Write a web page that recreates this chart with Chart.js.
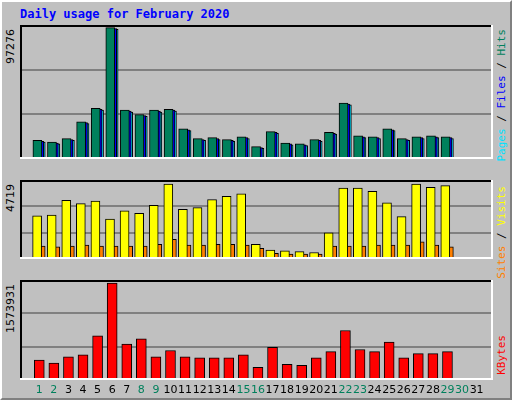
<!DOCTYPE html>
<html>
<head>
<meta charset="utf-8">
<script src="https://cdn.jsdelivr.net/npm/chart.js@4"></script>
<style>
  html, body { margin: 0; padding: 0; }
  #frame {
    position: relative; width: 508px; height: 396px; background: #C0C0C0;
    border-top: 2px solid #fff; border-left: 2px solid #fff;
    border-right: 2px solid #808080; border-bottom: 2px solid #808080;
    overflow: hidden;
  }
  .abs { position: absolute; }
  #title { left: 18px; top: 5px; font: bold 12px "DejaVu Sans Mono", monospace; color: #0000FF; }
  .vert { writing-mode: vertical-rl; transform: rotate(180deg); white-space: nowrap; }
  .left { font: 11px "DejaVu Sans", sans-serif; color: #000; }
  .right { font: 11px "DejaVu Sans Mono", monospace; }
</style>
</head>
<body>
<div id="frame">
  <div id="title" class="abs">Daily usage for February 2020</div>
  <canvas id="c1" class="abs" style="left:18px;top:23px" width="473" height="154"></canvas>
  <canvas id="c2" class="abs" style="left:18px;top:178px" width="473" height="99"></canvas>
  <canvas id="c3" class="abs" style="left:18px;top:278px" width="473" height="120"></canvas>
  <div class="abs vert left" style="left:2px;top:27px">97276</div>
  <div class="abs vert left" style="left:2px;top:182px">4719</div>
  <div class="abs vert left" style="left:2px;top:282px">1573931</div>
  <div class="abs vert right" style="left:493px;top:27px"><span style="color:#00E0FF">Pages</span>&nbsp;/&nbsp;<span style="color:#0000FF">Files</span>&nbsp;/&nbsp;<span style="color:#00805C">Hits</span></div>
  <div class="abs vert right" style="left:493px;top:184px"><span style="color:#FF8000">Sites</span>&nbsp;/&nbsp;<span style="color:#FFFF00">Visits</span></div>
  <div class="abs vert right" style="left:493px;top:333px"><span style="color:#FF0000">KBytes</span></div>
</div>
<script>
const days = [1,2,3,4,5,6,7,8,9,10,11,12,13,14,15,16,17,18,19,20,21,22,23,24,25,26,27,28,29];
const dayLabels = [1,2,3,4,5,6,7,8,9,10,11,12,13,14,15,16,17,18,19,20,21,22,23,24,25,26,27,28,29,30,31];
const weekend = [1,2,8,9,15,16,22,23,29,30];
const hits = [13800,12490,15120,27610,37470,97276,36150,32860,36150,36810,22350,15120,15780,14460,16430,9200,20380,11830,11170,14460,19720,41410,17090,16430,22350,15120,16430,17090,16430];
const files = [13140,11830,14460,26950,36810,96620,35490,32200,35490,36150,21690,14460,15120,13800,15780,8540,19720,11170,10520,13800,19060,40750,16430,15780,21690,14460,15780,16430,15780];
const pages = [12480,11170,13800,26290,36150,95960,34830,31540,34830,35490,21030,13800,14460,13140,15120,7880,19060,10520,9860,13140,18400,40090,15780,15120,21030,13800,15120,15780,15120];
const visits = [2718,2770,3693,3488,3642,2513,3026,2872,3385,4719,3129,3231,3744,3949,4103,923,564,513,462,410,1641,4462,4462,4257,3539,2667,4719,4514,4616];
const sites = [821,769,821,872,821,821,821,821,923,1231,872,872,923,923,872,667,359,308,308,308,821,821,821,872,872,872,1077,872,769];
const kbytes = [325050,273730,376380,410590,718540,1573931,581670,667210,376380,479020,376380,359270,359270,359270,410590,205300,530350,256620,239510,359270,461920,804080,496130,461920,615890,359270,427700,427700,461920];

const frame = {
  id: 'frame',
  afterDraw(chart) {
    const { ctx, chartArea: a } = chart;
    ctx.save();
    ctx.lineWidth = 2;
    ctx.strokeStyle = '#000';
    ctx.beginPath(); ctx.moveTo(a.left + 1, a.bottom); ctx.lineTo(a.left + 1, a.top + 1); ctx.lineTo(a.right, a.top + 1); ctx.stroke();
    ctx.strokeStyle = '#fff';
    ctx.beginPath(); ctx.moveTo(a.right - 1, a.top); ctx.lineTo(a.right - 1, a.bottom - 1); ctx.lineTo(a.left, a.bottom - 1); ctx.stroke();
    ctx.restore();
  }
};

function pts(vals, off) {
  return vals.map((v, i) => ({ x: days[i] + off, y: v }));
}

function bar(vals, off, color, w) {
  return { data: pts(vals, off), backgroundColor: color, borderColor: '#000', borderWidth: 1, barThickness: w, grouped: false };
}

function make(id, datasets, yMax, showDays) {
  new Chart(document.getElementById(id), {
    type: 'bar',
    data: { datasets },
    options: {
      responsive: false, animation: false,
      layout: { padding: 0 },
      plugins: { legend: { display: false }, tooltip: { enabled: false } },
      scales: {
        x: {
          type: 'linear', min: 0.2, max: 31.6, display: showDays,
          grid: { display: false, drawTicks: false }, border: { display: false },
          afterBuildTicks: s => { s.ticks = dayLabels.map(d => ({ value: d })); },
          afterFit: s => { s.height = 20; },
          ticks: {
            autoSkip: false, maxRotation: 0, padding: 4,
            font: { family: 'DejaVu Sans', size: 11 },
            color: c => weekend.includes(c.tick.value) ? '#00805C' : '#000',
            callback: v => String(v)
          }
        },
        y: {
          min: 0, max: yMax,
          afterBuildTicks: s => { s.ticks = [0, yMax / 3, yMax * 2 / 3, yMax].map(v => ({ value: v })); },
          afterFit: s => { s.width = 0; },
          ticks: { display: false },
          grid: { color: c => (c.index === 1 || c.index === 2) ? '#808080' : 'rgba(0,0,0,0)', lineWidth: 2, drawTicks: false },
          border: { display: false }
        }
      }
    },
    plugins: [frame]
  });
}

make('c1', [bar(hits, -0.13, '#00805C', 9), bar(files, 0, '#0000FF', 9), bar(pages, 0.1, '#00E0FF', 9)], 99250, false);
make('c2', [bar(visits, -0.15, '#FFFF00', 9), bar(sites, 0.13, '#FF8000', 8)], 4975, false);
make('c3', [bar(kbytes, 0, '#FF0000', 10)], 1625000, true);
</script>
</body>
</html>
